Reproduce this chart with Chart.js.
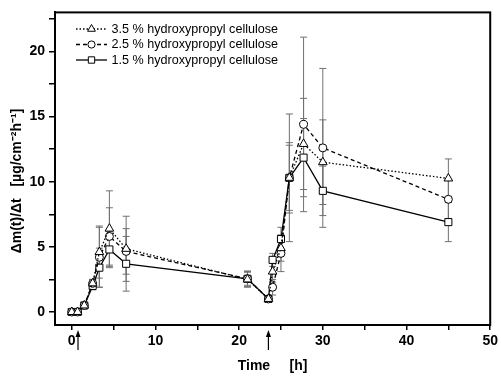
<!DOCTYPE html>
<html>
<head>
<meta charset="utf-8">
<script src="https://cdn.jsdelivr.net/npm/chart.js@4.4.1/dist/chart.umd.min.js"></script>
<style>
html,body{margin:0;padding:0;background:#fff;}
#wrap{width:501px;height:376px;position:relative;}
</style>
</head>
<body>
<div id="wrap"><canvas id="c"></canvas></div>
<script>
// ---- data ----
const times = [0, 0.7, 1.5, 2.5, 3.3, 4.5, 6.5, 21, 23.5, 24, 25, 26, 27.7, 30, 45];
const hpc35 = [0, 0, 0.5, 2.2, 4.6, 6.4, 4.85, 2.5, 1.0, 3.1, 4.9, 10.3, 12.9, 11.5, 10.25];
const hpc25 = [0, 0, 0.5, 2.2, 4.2, 5.8, 4.65, 2.55, 1.0, 1.9, 4.5, 10.3, 14.4, 12.6, 8.65];
const hpc15 = [0, 0, 0.5, 2.0, 3.4, 4.8, 3.7, 2.55, 1.0, 4.0, 5.6, 10.3, 11.85, 9.3, 6.9];
const err35 = [0, 0, 0.1, 0.3, 2.0, 2.9, 2.5, 0.6, 0.1, 0.8, 1.0, 4.9, 3.5, 3.25, 1.5];
const err25 = [0, 0, 0.1, 0.3, 2.3, 2.2, 1.75, 0.6, 0.1, 0.6, 1.4, 2.7, 6.7, 6.1, 1.5];
const err15 = [0, 0, 0.1, 0.3, 1.5, 1.4, 2.1, 0.5, 0.1, 0.5, 0.9, 2.5, 3.0, 1.9, 1.5];
const seriesNames = ["3.5 % hydroxypropyl cellulose", "2.5 % hydroxypropyl cellulose", "1.5 % hydroxypropyl cellulose"];
const xTicks = [0, 5, 10, 15, 20, 25, 30, 35, 40, 45, 50];
const xTickLabels = ["0", "", "10", "", "20", "", "30", "", "40", "", "50"];
const yTicks = [0, 2.5, 5, 7.5, 10, 12.5, 15, 17.5, 20, 22.5];
const yTickLabels = ["0", "", "5", "", "10", "", "15", "", "20", ""];
const arrowTimes = [0.75, 23.5];
const xTitle = "Time     [h]";
const yTitle = "\u0394m(t)/\u0394t   [\u00B5g/cm\u207B\u00B2h\u207B\u00B9]";

const pts = (vals) => vals.map((v, i) => ({x: times[i], y: v}));
const FONT = "'Liberation Sans', Arial, sans-serif";

const datasets = [
  {label: seriesNames[0], data: pts(hpc35), err: err35, borderDash: [1.5, 2], pointStyle: 'triangle', pointRadius: 5},
  {label: seriesNames[1], data: pts(hpc25), err: err25, borderDash: [4, 3], pointStyle: 'circle', pointRadius: 4},
  {label: seriesNames[2], data: pts(hpc15), err: err15, borderDash: [], pointStyle: 'rect', pointRadius: 5}
].map(d => Object.assign({
  borderColor: '#000', borderWidth: 1.3, backgroundColor: '#fff',
  pointBorderColor: '#000', pointBackgroundColor: '#fff', pointBorderWidth: 1,
  tension: 0, fill: false
}, d));

const errorBars = {
  id: 'errorBars',
  beforeDatasetsDraw(chart) {
    const ctx = chart.ctx, xs = chart.scales.x, ys = chart.scales.y;
    ctx.save();
    ctx.strokeStyle = '#707070';
    ctx.lineWidth = 1;
    chart.data.datasets.forEach(ds => {
      ds.data.forEach((p, i) => {
        const e = ds.err[i];
        if (!e || e < 0.2) return;
        const px = xs.getPixelForValue(p.x);
        const y1 = ys.getPixelForValue(p.y + e), y0 = ys.getPixelForValue(p.y - e);
        ctx.beginPath();
        ctx.moveTo(px, y1); ctx.lineTo(px, y0);
        ctx.moveTo(px - 3.5, y1); ctx.lineTo(px + 3.5, y1);
        ctx.moveTo(px - 3.5, y0); ctx.lineTo(px + 3.5, y0);
        ctx.stroke();
      });
    });
    ctx.restore();
  }
};

const decor = {
  id: 'decor',
  afterDraw(chart) {
    const ctx = chart.ctx, a = chart.chartArea, xs = chart.scales.x;
    ctx.save();
    // frame
    ctx.strokeStyle = '#000';
    ctx.lineWidth = 2;
    ctx.strokeRect(a.left, a.top, a.right - a.left, a.bottom - a.top);
    // arrows
    ctx.lineWidth = 1.2;
    ctx.fillStyle = '#000';
    arrowTimes.forEach(t => {
      const px = xs.getPixelForValue(t);
      ctx.beginPath();
      ctx.moveTo(px, a.bottom + 25); ctx.lineTo(px, a.bottom + 9);
      ctx.stroke();
      ctx.beginPath();
      ctx.moveTo(px, a.bottom + 5); ctx.lineTo(px - 2.5, a.bottom + 12); ctx.lineTo(px + 2.5, a.bottom + 12);
      ctx.closePath(); ctx.fill();
    });
    // axis titles
    ctx.fillStyle = '#000';
    ctx.font = "bold 14px " + FONT;
    ctx.textAlign = 'center';
    ctx.textBaseline = 'middle';
    ctx.fillText(xTitle, (a.left + a.right) / 2, 366);
    ctx.translate(17, 181);
    ctx.rotate(-Math.PI / 2);
    ctx.fillText(yTitle, 0, 0);
    ctx.restore();
    // legend
    ctx.save();
    const rows = [29, 44.5, 60];
    chart.data.datasets.forEach((ds, i) => {
      const y = rows[i];
      ctx.strokeStyle = '#000';
      ctx.lineWidth = 1.3;
      ctx.setLineDash(ds.borderDash);
      ctx.beginPath(); ctx.moveTo(76, y); ctx.lineTo(107, y); ctx.stroke();
      ctx.setLineDash([]);
      ctx.fillStyle = '#fff';
      ctx.lineWidth = 1;
      Chart.helpers.drawPoint(ctx, {pointStyle: ds.pointStyle, radius: ds.pointStyle === 'circle' ? 3.6 : 4.5, borderWidth: 1}, 91.5, y);
      ctx.fillStyle = '#000';
      ctx.font = "12.6px " + FONT;
      ctx.textAlign = 'left';
      ctx.textBaseline = 'middle';
      ctx.fillText(ds.label, 111.5, y + 0.5);
    });
    ctx.restore();
  }
};

new Chart(document.getElementById('c'), {
  type: 'line',
  data: {datasets},
  options: {
    responsive: true, maintainAspectRatio: false, animation: false,
    layout: {padding: {top: 3, right: 10, left: 0, bottom: 0}},
    plugins: {legend: {display: false}, tooltip: {enabled: false}},
    scales: {
      x: {
        type: 'linear', min: -2, max: 50,
        afterBuildTicks: s => { s.ticks = xTicks.map(v => ({value: v})); },
        afterFit: s => { s.height = 51; },
        grid: {drawOnChartArea: false, drawTicks: true, tickLength: 5, color: '#000', lineWidth: 1.5},
        border: {display: true, color: '#000', width: 2},
        ticks: {
          color: '#000', padding: 3, maxRotation: 0, autoSkip: false,
          font: {family: FONT, size: 14, weight: 'bold'},
          callback: (v, i) => xTickLabels[i]
        }
      },
      y: {
        type: 'linear', min: -1, max: 23,
        afterBuildTicks: s => { s.ticks = yTicks.map(v => ({value: v})); },
        afterFit: s => { s.width = 55; },
        grid: {drawOnChartArea: false, drawTicks: true, tickLength: 6, color: '#000', lineWidth: 1.5},
        border: {display: true, color: '#000', width: 2},
        ticks: {
          color: '#000', padding: 4, autoSkip: false,
          font: {family: FONT, size: 14, weight: 'bold'},
          callback: (v, i) => yTickLabels[i]
        }
      }
    }
  },
  plugins: [errorBars, decor]
});
</script>
</body>
</html>
